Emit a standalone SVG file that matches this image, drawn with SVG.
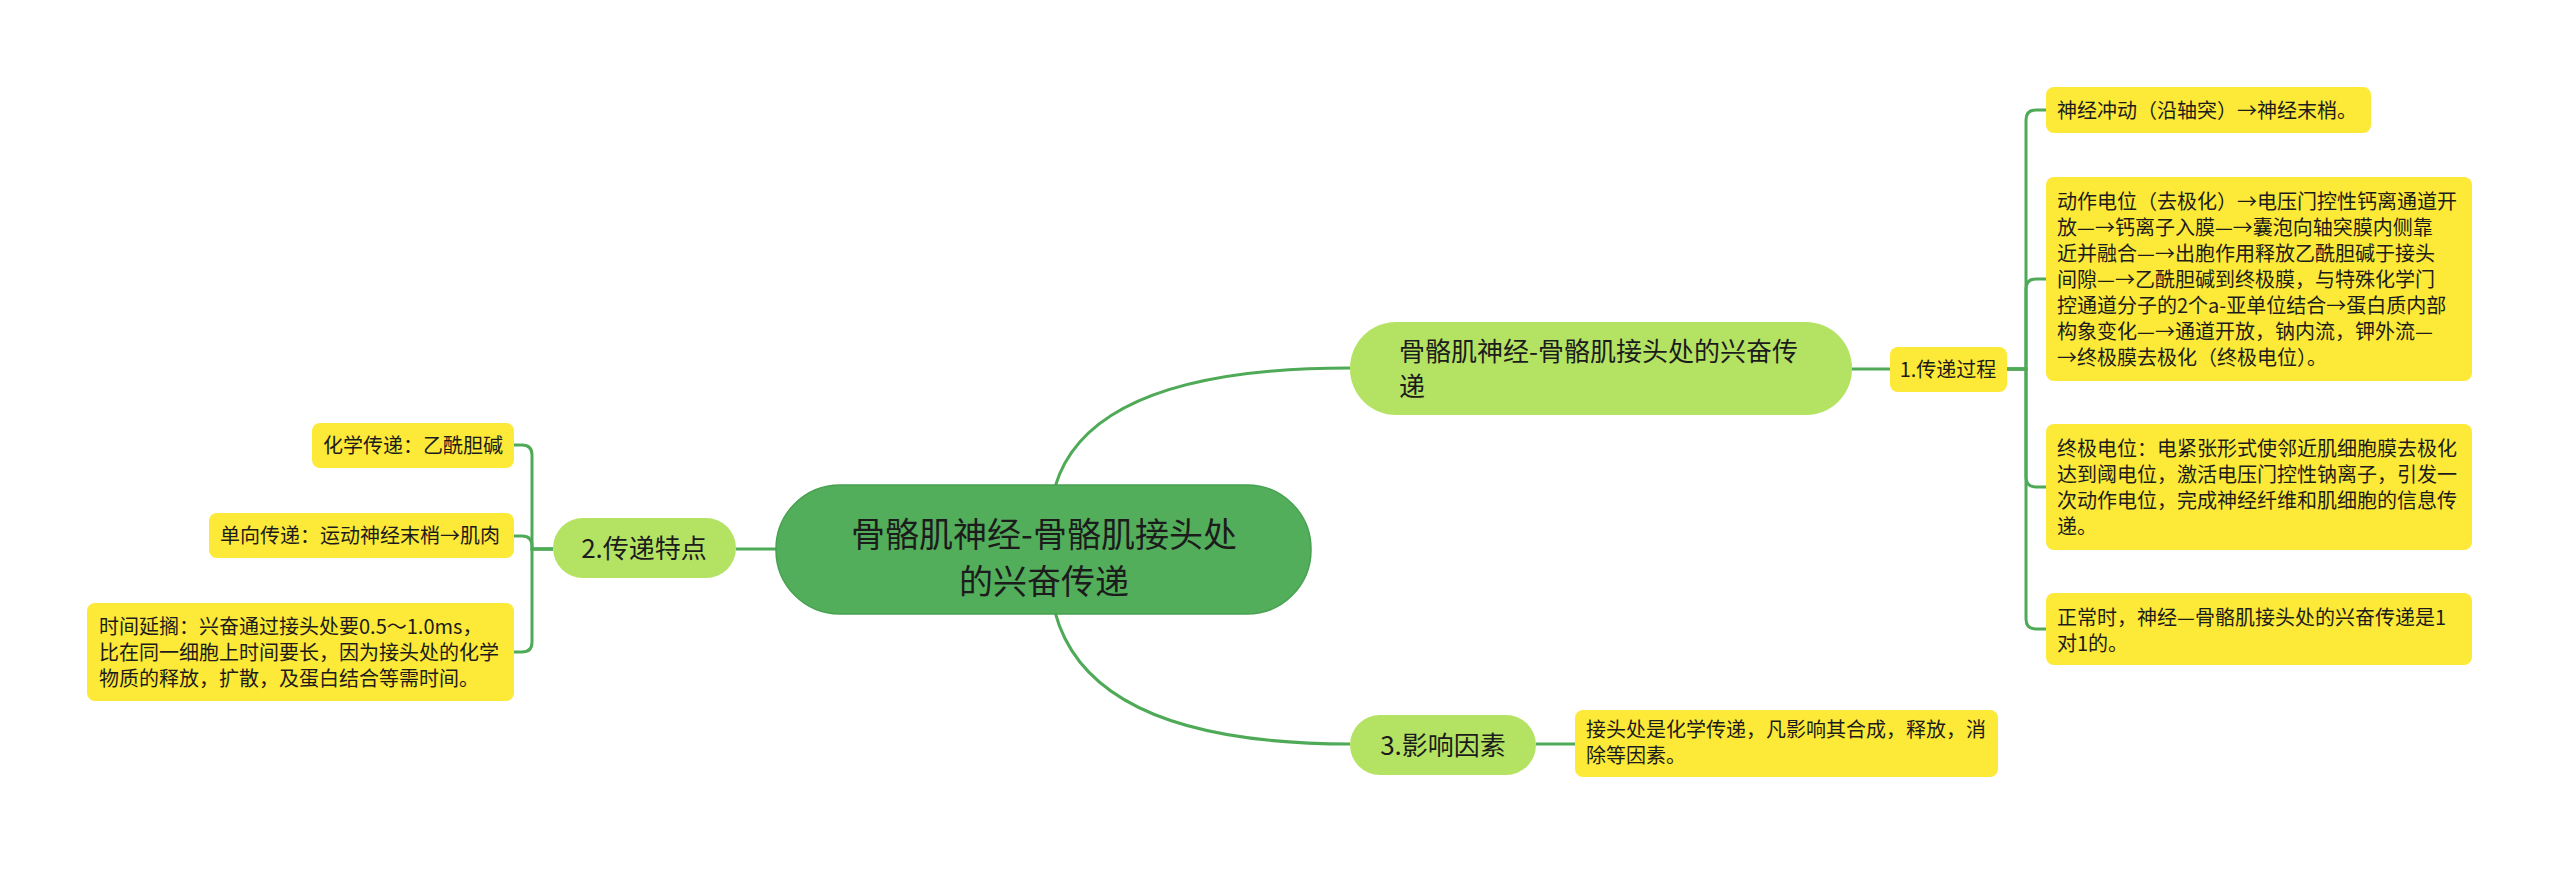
<svg xmlns="http://www.w3.org/2000/svg" width="2560" height="869" viewBox="0 0 2560 869">
<style>
text{font-family:"Noto Sans CJK SC","Noto Sans",sans-serif;fill:#1c1c1c}
.root{fill:#52ae5a;stroke:#47a150;stroke-width:1.5}
.l1{fill:#b4e364}
.leaf{fill:#fde937}
.t34{font-size:34px}
.t26{font-size:26px}
.t20{font-size:20px}
.c{fill:none;stroke:#4faa58;stroke-width:3}
</style>
<rect width="2560" height="869" fill="#ffffff"/>
<g id="connectors">
<path class="c" d="M1055 487 Q1090 368 1350 368"/>
<path class="c" d="M1055 612 Q1090 744 1350 744"/>
<path class="c" d="M777 549 L736 549"/>
<path class="c" d="M1852 369 L1890 369"/>
<path class="c" d="M2007 369 H2026 V120 Q2026 110 2036 110 H2046"/>
<path class="c" d="M2007 369 H2026 V289 Q2026 279 2036 279 H2046"/>
<path class="c" d="M2007 369 H2026 V477 Q2026 487 2036 487 H2046"/>
<path class="c" d="M2007 369 H2026 V619 Q2026 629 2036 629 H2046"/>
<path class="c" d="M553 549 H532 V455 Q532 445 522 445 H514"/>
<path class="c" d="M553 549 H532 V546 Q532 536 522 536 H514"/>
<path class="c" d="M553 549 H532 V642 Q532 652 522 652 H514"/>
<path class="c" d="M1536 744 L1575 744"/>
</g>
<g id="root">
<rect class="root" x="776" y="485" width="535" height="129" rx="64"/>
<text class="t34" text-anchor="middle"><tspan x="1044" y="547">骨骼肌神经-骨骼肌接头处</tspan><tspan x="1044" y="594">的兴奋传递</tspan></text>
</g>
<g id="n-main">
<rect class="l1" x="1350" y="322" width="502" height="93" rx="46"/>
<text class="t26"><tspan x="1399" y="361">骨骼肌神经-骨骼肌接头处的兴奋传</tspan><tspan x="1399" y="396">递</tspan></text>
</g>
<g id="n-1">
<rect class="leaf" x="1890" y="347" width="117" height="45" rx="8"/>
<text class="t20" x="1948" y="377" text-anchor="middle">1.传递过程</text>
</g>
<g id="n-1a">
<rect class="leaf" x="2046" y="87" width="325" height="46" rx="8"/>
<text class="t20" x="2057" y="118">神经冲动（沿轴突）→神经末梢。</text>
</g>
<g id="n-1b">
<rect class="leaf" x="2046" y="177" width="426" height="204" rx="8"/>
<text class="t20"><tspan x="2057" y="209">动作电位（去极化）→电压门控性钙离通道开</tspan><tspan x="2057" y="235">放—→钙离子入膜—→囊泡向轴突膜内侧靠</tspan><tspan x="2057" y="261">近并融合—→出胞作用释放乙酰胆碱于接头</tspan><tspan x="2057" y="287">间隙—→乙酰胆碱到终极膜，与特殊化学门</tspan><tspan x="2057" y="313">控通道分子的2个a-亚单位结合→蛋白质内部</tspan><tspan x="2057" y="339">构象变化—→通道开放，钠内流，钾外流—</tspan><tspan x="2057" y="365">→终极膜去极化（终极电位）。</tspan></text>
</g>
<g id="n-1c">
<rect class="leaf" x="2046" y="424" width="426" height="126" rx="8"/>
<text class="t20"><tspan x="2057" y="456">终极电位：电紧张形式使邻近肌细胞膜去极化</tspan><tspan x="2057" y="482">达到阈电位，激活电压门控性钠离子，引发一</tspan><tspan x="2057" y="508">次动作电位，完成神经纤维和肌细胞的信息传</tspan><tspan x="2057" y="534">递。</tspan></text>
</g>
<g id="n-1d">
<rect class="leaf" x="2046" y="593" width="426" height="72" rx="8"/>
<text class="t20"><tspan x="2057" y="625">正常时，神经—骨骼肌接头处的兴奋传递是1</tspan><tspan x="2057" y="651">对1的。</tspan></text>
</g>
<g id="n-2">
<rect class="l1" x="553" y="518" width="183" height="60" rx="30"/>
<text class="t26" x="644" y="558" text-anchor="middle">2.传递特点</text>
</g>
<g id="n-2a">
<rect class="leaf" x="312" y="423" width="202" height="45" rx="8"/>
<text class="t20" x="323" y="453">化学传递：乙酰胆碱</text>
</g>
<g id="n-2b">
<rect class="leaf" x="209" y="513" width="305" height="45" rx="8"/>
<text class="t20" x="220" y="543">单向传递：运动神经末梢→肌肉</text>
</g>
<g id="n-2c">
<rect class="leaf" x="87" y="603" width="427" height="98" rx="8"/>
<text class="t20"><tspan x="99" y="634">时间延搁：兴奋通过接头处要0.5～1.0ms，</tspan><tspan x="99" y="660">比在同一细胞上时间要长，因为接头处的化学</tspan><tspan x="99" y="686">物质的释放，扩散，及蛋白结合等需时间。</tspan></text>
</g>
<g id="n-3">
<rect class="l1" x="1350" y="715" width="186" height="60" rx="30"/>
<text class="t26" x="1443" y="755" text-anchor="middle">3.影响因素</text>
</g>
<g id="n-3a">
<rect class="leaf" x="1575" y="710" width="423" height="67" rx="8"/>
<text class="t20"><tspan x="1586" y="737">接头处是化学传递，凡影响其合成，释放，消</tspan><tspan x="1586" y="763">除等因素。</tspan></text>
</g>
</svg>
